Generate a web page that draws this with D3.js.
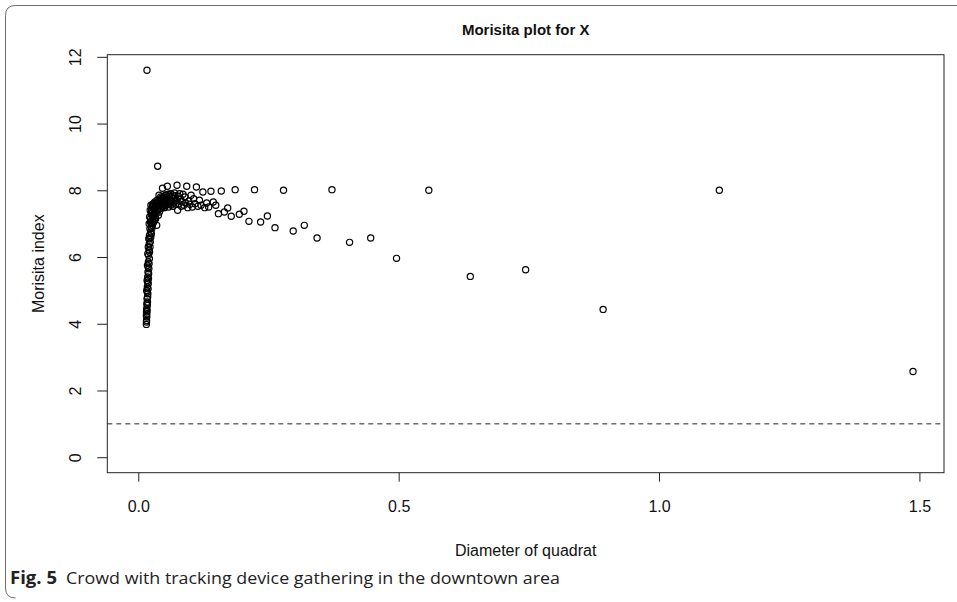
<!DOCTYPE html>
<html>
<head>
<meta charset="utf-8">
<script src="https://cdn.jsdelivr.net/npm/d3@7"></script>
<style>
  html, body { margin: 0; padding: 0; background: #fff; }
  svg { display: block; }
</style>
</head>
<body>
<svg id="fig" width="957" height="602"></svg>
<script>
// Quadrat diameters (x) and the Morisita index measured at each (y)
const diameter = [
  1.4877, 1.1158, 0.8926, 0.7438, 0.6376, 0.5579, 0.4959, 0.4463, 0.4057, 0.3719,
  0.3433, 0.3188, 0.2975, 0.2789, 0.2625, 0.2479, 0.2349, 0.2232, 0.2125, 0.2029,
  0.1940, 0.1860, 0.1785, 0.1717, 0.1653, 0.1594, 0.1539, 0.1488, 0.1440, 0.1395,
  0.1352, 0.1313, 0.1275, 0.1240, 0.1206, 0.1174, 0.1144, 0.1116, 0.1089, 0.1063,
  0.1038, 0.1014, 0.0992, 0.0970, 0.0950, 0.0930, 0.0911, 0.0893, 0.0875, 0.0858,
  0.0842, 0.0826, 0.0811, 0.0797, 0.0783, 0.0769, 0.0756, 0.0744,
  0.0732, 0.0720, 0.0708, 0.0697, 0.0687, 0.0676, 0.0666, 0.0656, 0.0647, 0.0638,
  0.0629, 0.0620, 0.0611, 0.0603, 0.0595, 0.0587, 0.0580, 0.0572, 0.0565, 0.0558,
  0.0551, 0.0544, 0.0538, 0.0531, 0.0525, 0.0519, 0.0513, 0.0507, 0.0501, 0.0496,
  0.0490, 0.0485, 0.0480, 0.0475, 0.0470, 0.0465, 0.0460, 0.0455, 0.0451, 0.0446,
  0.0438, 0.0429, 0.0421, 0.0413, 0.0406, 0.0398, 0.0391, 0.0385, 0.0378, 0.0372,
  0.0366, 0.0360, 0.0354, 0.0349, 0.0343, 0.0338, 0.0333, 0.0328, 0.0323, 0.0319,
  0.0314, 0.0310, 0.0306, 0.0302, 0.0298,
  0.0294, 0.0290, 0.0286, 0.0282, 0.0279, 0.0275, 0.0272, 0.0269, 0.0266, 0.0263,
  0.0259, 0.0256, 0.0254, 0.0251, 0.0248, 0.0245, 0.0243, 0.0240, 0.0237, 0.0235,
  0.0232, 0.0230, 0.0228, 0.0225, 0.0223, 0.0221, 0.0219, 0.0217, 0.0215, 0.0213,
  0.0211, 0.0209, 0.0207, 0.0205, 0.0203, 0.0201, 0.0199, 0.0197, 0.0196, 0.0194,
  0.0192, 0.0191, 0.0189, 0.0188, 0.0186, 0.0184, 0.0183, 0.0181, 0.0180, 0.0179,
  0.0177, 0.0176, 0.0174, 0.0173, 0.0172, 0.0170, 0.0169, 0.0168, 0.0167, 0.0165,
  0.0164, 0.0163, 0.0162, 0.0161, 0.0159, 0.0158, 0.0157, 0.0156, 0.0155
];
const morisita = [
  2.57, 8.00, 4.43, 5.62, 5.42, 8.00, 5.96, 6.57, 6.44, 8.02,
  6.57, 6.95, 6.78, 8.00, 6.88, 7.23, 7.05, 8.02, 7.07, 7.37,
  7.28, 8.02, 7.22, 7.47, 7.35, 7.98, 7.30, 7.55, 7.65, 7.97,
  7.50, 7.62, 7.48, 7.95, 7.55, 7.70, 7.52, 8.10, 7.60, 7.75,
  7.50, 7.85, 7.58, 7.68, 7.48, 8.12, 7.62, 7.80, 7.55, 7.88,
  7.66, 7.52, 7.74, 7.90, 7.60, 7.82, 7.40, 8.15,
  7.70, 7.58, 7.84, 7.92, 7.62, 7.76, 7.52, 7.86, 7.66, 7.80,
  7.56, 7.90, 7.70, 7.60, 7.82, 7.74, 7.50, 7.88, 7.64, 8.12,
  7.58, 7.78, 7.68, 7.86, 7.54, 7.72, 7.62, 7.84, 7.48, 7.70,
  7.58, 7.80, 7.66, 7.52, 7.74, 8.06, 7.56, 7.68, 7.46, 7.76,
  7.62, 7.80, 7.45, 7.70, 7.35, 7.85, 7.55, 7.25, 7.65, 8.72,
  7.40, 7.70, 6.95, 7.55, 7.30, 7.60, 7.15, 7.50, 7.35, 7.65,
  7.10, 7.45, 7.25, 7.55, 7.05,
  7.45, 7.20, 7.60, 7.05, 7.35, 7.55, 6.95, 7.25, 7.50, 7.10,
  6.85, 7.40, 7.00, 6.70, 7.30, 6.90, 7.55, 6.60, 7.15, 6.75,
  7.05, 6.45, 7.40, 6.30, 6.85, 6.55, 7.20, 6.15, 6.65, 5.95,
  6.40, 7.00, 5.80, 6.20, 5.65, 6.55, 5.50, 6.05, 5.35, 5.85,
  6.30, 5.20, 5.70, 5.05, 5.55, 4.90, 6.10, 5.40, 4.80, 5.25,
  4.65, 5.75, 5.10, 4.55, 4.95, 4.40, 5.30, 4.75, 11.60, 4.30,
  4.60, 4.20, 5.00, 4.45, 4.10, 4.35, 4.05, 4.25, 3.98
];
const xTicks = [0, 0.5, 1.0, 1.5];
const yTicks = [0, 2, 4, 6, 8, 10, 12];
const referenceLevel = 1;

const chartTitle = "Morisita plot for X";
const xTitle = "Diameter of quadrat";
const yTitle = "Morisita index";
const figLabel = "Fig. 5";
const figText = "Crowd with tracking device gathering in the downtown area";

const points = diameter.map((d, i) => ({ x: d, y: morisita[i] }));

const svg = d3.select("#fig");
const plot = { left: 107.3, right: 944, top: 54.7, bottom: 472.7 };
const chartFont = "'Liberation Sans', Arial, sans-serif";

// Outer figure frame with rounded corners (open at the right)
svg.append("path")
  .attr("d", "M 990 5.5 L 15.5 5.5 Q 5.5 5.5 5.5 15.5 L 5.5 588 Q 5.5 598 15.5 598")
  .attr("fill", "none")
  .attr("stroke", "#6b6b6b")
  .attr("stroke-width", 1);

// Axis ranges: from 0 to the largest value, padded by 4% on each side
function padded(maxV) {
  const pad = maxV * 0.04;
  return [-pad, maxV + pad];
}
const x = d3.scaleLinear()
  .domain(padded(d3.max(points, d => d.x)))
  .range([plot.left, plot.right]);
const y = d3.scaleLinear()
  .domain(padded(d3.max(points, d => d.y)))
  .range([plot.bottom, plot.top]);

// Reference line at index = 1
svg.append("line")
  .attr("x1", plot.left).attr("x2", plot.right)
  .attr("y1", y(referenceLevel)).attr("y2", y(referenceLevel))
  .attr("stroke", "#222").attr("stroke-width", 1)
  .attr("stroke-dasharray", "5,4");

// Points (open circles)
svg.append("g")
  .selectAll("circle")
  .data(points)
  .join("circle")
  .attr("cx", d => x(d.x))
  .attr("cy", d => y(d.y))
  .attr("r", 3.1)
  .attr("fill", "none")
  .attr("stroke", "#000")
  .attr("stroke-width", 1.2);

// Plot box
svg.append("rect")
  .attr("x", plot.left).attr("y", plot.top)
  .attr("width", plot.right - plot.left)
  .attr("height", plot.bottom - plot.top)
  .attr("fill", "none")
  .attr("stroke", "#222")
  .attr("stroke-width", 1);

// X axis
const xAxis = svg.append("g")
  .attr("transform", `translate(0,${plot.bottom})`)
  .call(d3.axisBottom(x).tickValues(xTicks).tickFormat(d3.format(".1f")).tickSize(9).tickPadding(19));
xAxis.select(".domain").remove();
xAxis.selectAll("line").attr("stroke", "#222");
xAxis.selectAll("text")
  .attr("font-family", chartFont).attr("font-size", 16).attr("fill", "#111");

// Y axis with labels turned parallel to the axis
const yAxis = svg.append("g")
  .attr("transform", `translate(${plot.left},0)`)
  .call(d3.axisLeft(y).tickValues(yTicks).tickFormat(d3.format("d")).tickSize(10));
yAxis.select(".domain").remove();
yAxis.selectAll("line").attr("stroke", "#222");
yAxis.selectAll("text")
  .attr("font-family", chartFont).attr("font-size", 16).attr("fill", "#111")
  .attr("x", null).attr("dy", null)
  .attr("text-anchor", "middle")
  .attr("transform", "translate(-32,0) rotate(-90)")
  .attr("dy", "0.35em");

// Titles
svg.append("text")
  .attr("x", (plot.left + plot.right) / 2).attr("y", 35)
  .attr("text-anchor", "middle")
  .attr("font-family", chartFont).attr("font-weight", "bold").attr("font-size", 15)
  .attr("fill", "#111")
  .text(chartTitle);

svg.append("text")
  .attr("x", (plot.left + plot.right) / 2).attr("y", 556)
  .attr("text-anchor", "middle")
  .attr("font-family", chartFont).attr("font-size", 16)
  .attr("fill", "#111")
  .text(xTitle);

svg.append("text")
  .attr("transform", `translate(44,${(plot.top + plot.bottom) / 2}) rotate(-90)`)
  .attr("text-anchor", "middle")
  .attr("font-family", chartFont).attr("font-size", 16)
  .attr("fill", "#111")
  .text(yTitle);

// Figure caption
const capFont = "'Open Sans', 'Noto Sans', sans-serif";
svg.append("text")
  .attr("x", 10).attr("y", 584)
  .attr("font-family", capFont).attr("font-size", 17).attr("font-weight", "bold")
  .attr("fill", "#222")
  .attr("textLength", 47).attr("lengthAdjust", "spacingAndGlyphs")
  .text(figLabel);
svg.append("text")
  .attr("x", 66).attr("y", 584)
  .attr("font-family", capFont).attr("font-size", 17)
  .attr("fill", "#222")
  .attr("textLength", 494).attr("lengthAdjust", "spacingAndGlyphs")
  .text(figText);
</script>
</body>
</html>
